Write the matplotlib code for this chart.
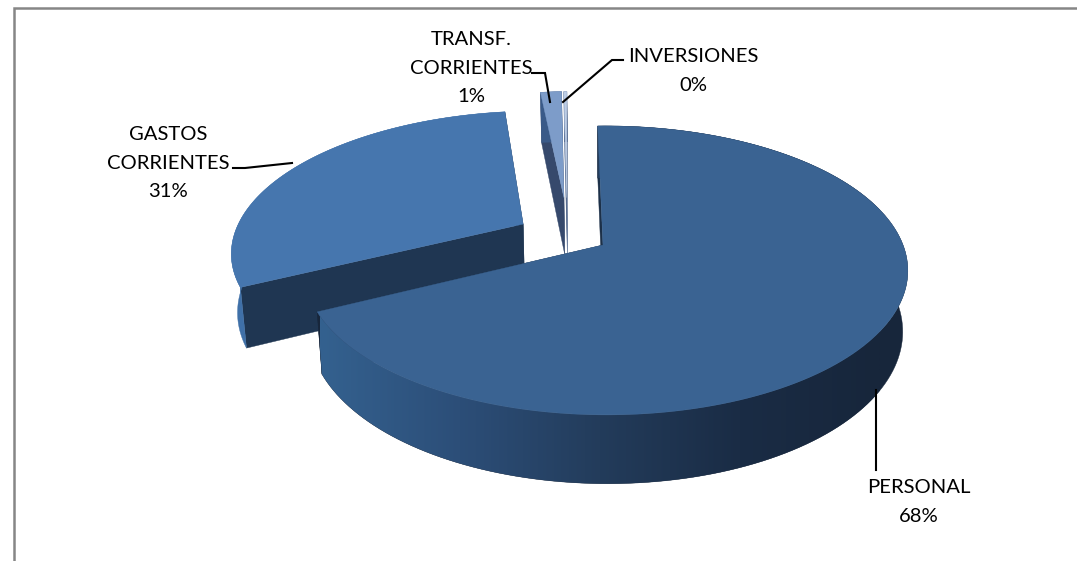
import numpy as np
import matplotlib
matplotlib.use('Agg')
import matplotlib.pyplot as plt
from matplotlib.patches import Polygon
from matplotlib.colors import LinearSegmentedColormap

# values (labels are rounded)
labels = ['PERSONAL', 'GASTOS\nCORRIENTES', 'TRANSF.\nCORRIENTES', 'INVERSIONES']
pcts = ['68%', '31%', '1%', '0%']
values = [68.0, 30.4, 1.4, 0.2]

# explode offset of each slice, in disc units (x, back)
offsets = [(0, 0), (-0.277, 0.154), (-0.14, 0.36), (-0.13, 0.36)]
top_colors = ['#3a6392', '#4676ae', '#7d9cc9', '#bccde6']
cut_colors = ['#1c3048', '#1f3652', '#36496c', '#50668c']
arc_colors = ['#2c4e78', '#3f70a8', '#3a5a88', '#50668c']
draw_order = [1, 2, 3, 0]

# projection, pixel units
x0, y0 = 603, 245
A, B = 297, 140
k = 0.176
m = -0.01
D = 59
shrink = 1.017
start = np.radians(-1.2)

# side shading of the big slice, left to right
side_cmap = LinearSegmentedColormap.from_list('side', ['#34618f', '#2c4e78', '#233c5b', '#1a2c45', '#17263b'])


def project(u, v, low=False):
    w = 1 + k * v + m * u
    if low:
        return x0 + A * u / (w * shrink), y0 - B * v / (w * shrink) + D / w
    return x0 + A * u / w, y0 - B * v / w


def face(ax, pts, color, z):
    ax.fill([p[0] for p in pts], [p[1] for p in pts], color=color, lw=0.3, zorder=z)


fig = plt.figure(figsize=(10.77, 5.61), dpi=100)
ax = fig.add_axes([0, 0, 1, 1])
ax.axis('off')

# frame of the chart, cut off at the right and the bottom
ax.plot([13.5, 13.5, 1077], [561, 7.5, 7.5], color='#868686', lw=1.8, zorder=1, solid_joinstyle='miter')

fractions = np.array(values) / sum(values)
edges = start + np.concatenate([[0], np.cumsum(fractions)]) * 2 * np.pi

z = 2
for i in draw_order:
    a = np.linspace(edges[i], edges[i + 1], 160)
    ou, ov = offsets[i]
    u = ou + np.sin(a)
    v = ov + np.cos(a)

    # radial cuts, end one first
    for end in [a[-1], a[0]]:
        eu, ev = ou + np.sin(end), ov + np.cos(end)
        pts = [project(ou, ov), project(eu, ev), project(eu, ev, True), project(ou, ov, True)]
        face(ax, pts, cut_colors[i], z)

    # outer wall
    xt, yt = project(u, v)
    xb, yb = project(u, v, True)
    outline = list(zip(xt, yt)) + list(zip(xb[::-1], yb[::-1]))
    if i == 0:
        im = ax.imshow(np.linspace(0, 1, 256)[None, :], extent=[320, 880, 500, 120], cmap=side_cmap,
                       aspect='auto', zorder=z)
        # right of the gradient stays on the darkest colour
        face(ax, outline, '#17263b', z)
        im.set_zorder(z + 0.1)
        clip = Polygon(outline, closed=True, transform=ax.transData)
        im.set_clip_path(clip)
    else:
        face(ax, outline, arc_colors[i], z)

    # top face
    face(ax, [project(ou, ov)] + list(zip(xt, yt)), top_colors[i], z + 0.2)
    z += 1

# leader lines
lead = dict(color='black', lw=1.5, zorder=20, solid_joinstyle='miter')
ax.plot([876, 876], [390, 470], **lead)
ax.plot([233, 245, 292], [168, 168, 163], **lead)
ax.plot([532, 545, 550], [73, 73, 102], **lead)
ax.plot([563, 612, 623], [102, 60, 60], **lead)

# labels
label_pos = [(919, 502), (168, 163), (471, 68), (693, 71)]
for name, pct, (tx, ty) in zip(labels, pcts, label_pos):
    ax.text(tx, ty, name + '\n' + pct, ha='center', va='center', fontsize=14.6,
            family='Lato', color='black', linespacing=1.8, zorder=21)

ax.set_xlim(0, 1077)
ax.set_ylim(561, 0)

fig.savefig('out.png', dpi=100)
